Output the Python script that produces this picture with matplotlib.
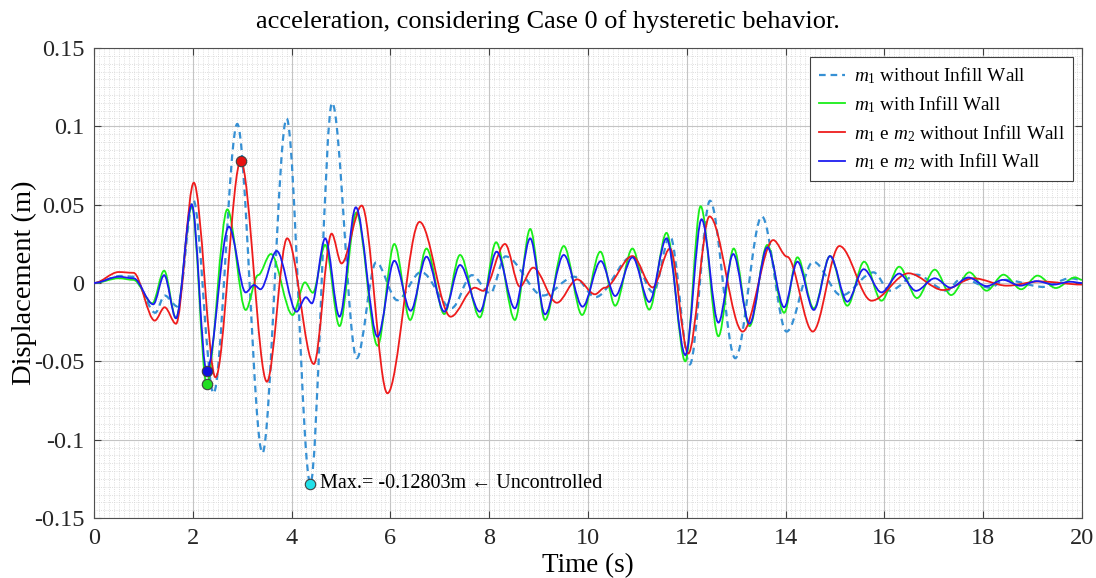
import numpy as np
import matplotlib
matplotlib.use('Agg')
import matplotlib.pyplot as plt
from matplotlib.path import Path
from matplotlib.patches import PathPatch
from matplotlib.lines import Line2D
from matplotlib.ticker import MultipleLocator

plt.rcParams['font.family'] = ['Liberation Serif', 'DejaVu Serif']
plt.rcParams['mathtext.fontset'] = 'custom'
plt.rcParams['mathtext.rm'] = 'Liberation Serif'
plt.rcParams['mathtext.it'] = 'Liberation Serif:italic'

# Peaks / troughs (time in s, displacement in m)
t_m1_wo = [0, 0.55, 0.8, 1.24, 1.43, 1.69, 2.01, 2.42, 2.90, 3.41, 3.90, 4.38, 4.82,
           5.32, 5.71, 6.14, 6.62, 7.24, 7.65, 8.02, 8.33, 9.09, 9.72, 10.15, 10.90,
           11.32, 11.66, 12.06, 12.47, 12.98, 13.52, 14.02, 14.56, 15.13, 15.78, 16.11,
           16.65, 17.26, 17.56, 18.14, 18.44, 19.22, 19.76, 20.0]
y_m1_wo = [0, 0.0045, 0.004, -0.019, -0.008, -0.015, 0.053, -0.0704, 0.1015, -0.1085,
           0.105, -0.12803, 0.115, -0.048, 0.0132, -0.011, 0.007, -0.016, 0.005, -0.0066,
           0.017, -0.008, 0.004, -0.009, 0.017, -0.006, 0.030, -0.052, 0.0525, -0.048,
           0.0425, -0.031, 0.0136, -0.008, 0.0068, -0.0049, 0.0053, -0.0049, 0.003,
           -0.003, 0.002, -0.0025, 0.003, 0.002]

t_m1_w = [0, 0.5, 0.8, 1.18, 1.42, 1.66, 1.98, 2.28, 2.70, 3.07, 3.32, 3.58, 4.02, 4.27,
          4.43, 4.68, 4.97, 5.31, 5.74, 6.08, 6.40, 6.73, 7.09, 7.41, 7.81, 8.14, 8.52,
          8.83, 9.13, 9.51, 9.88, 10.25, 10.55, 10.90, 11.24, 11.59, 11.97, 12.28, 12.64,
          12.95, 13.27, 13.63, 13.97, 14.24, 14.57, 14.90, 15.25, 15.59, 15.94, 16.30,
          16.66, 17.02, 17.35, 17.72, 18.07, 18.41, 18.77, 19.10, 19.47, 19.86, 20.0]
y_m1_w = [0, 0.003, 0.002, -0.013, 0.0079, -0.0225, 0.049, -0.0645, 0.047, -0.0172, 0.005,
          0.0185, -0.0204, 0.0004, -0.0062, 0.0243, -0.0275, 0.045, -0.040, 0.0249,
          -0.0236, 0.022, -0.0198, 0.0179, -0.022, 0.026, -0.0236, 0.0345, -0.0236,
          0.0236, -0.0204, 0.020, -0.0145, 0.022, -0.017, 0.032, -0.050, 0.049, -0.034,
          0.022, -0.0275, 0.0243, -0.019, 0.0164, -0.0162, 0.0172, -0.0145, 0.0136,
          -0.0113, 0.0104, -0.0096, 0.0085, -0.0077, 0.0068, -0.0049, 0.0053, -0.004,
          0.0047, -0.0032, 0.0036, 0.002]

t_m12_wo = [0, 0.5, 0.8, 1.23, 1.43, 1.66, 2.02, 2.46, 2.97, 3.50, 3.91, 4.45, 4.81, 5.01,
            5.42, 5.94, 6.59, 7.22, 7.71, 7.88, 8.32, 8.62, 8.89, 9.37, 9.78, 10.14, 10.34,
            10.90, 11.31, 11.66, 12.03, 12.46, 13.13, 13.75, 14.03, 14.55, 15.09, 15.74,
            16.49, 17.19, 17.80, 18.48, 19.15, 20.0]
y_m12_wo = [0, 0.007, 0.0065, -0.024, -0.0155, -0.026, 0.064, -0.0602, 0.0779, -0.063,
            0.0285, -0.0517, 0.0315, 0.0125, 0.0494, -0.0704, 0.039, -0.0215, -0.003,
            -0.005, 0.0249, -0.0023, 0.0098, -0.0126, 0.0023, -0.0072, -0.003, 0.0172,
            -0.0028, 0.022, -0.045, 0.0425, -0.031, 0.0274, 0.0168, -0.031, 0.0236,
            -0.0113, 0.0062, -0.0045, 0.003, -0.0017, 0.001, -0.001]

t_m12_w = [0, 0.5, 0.8, 1.20, 1.42, 1.66, 1.98, 2.28, 2.73, 3.07, 3.24, 3.37, 3.70, 4.10,
           4.29, 4.41, 4.68, 4.97, 5.30, 5.74, 6.08, 6.41, 6.73, 7.09, 7.41, 7.81, 8.15,
           8.52, 8.83, 9.13, 9.51, 9.89, 10.26, 10.55, 10.90, 11.24, 11.59, 11.97, 12.30,
           12.64, 12.94, 13.27, 13.63, 13.97, 14.24, 14.57, 14.90, 15.25, 15.58, 15.94,
           16.30, 16.64, 17.02, 17.34, 17.70, 18.07, 18.40, 18.75, 19.08, 19.43, 19.76, 20.0]
y_m12_w = [0, 0.004, 0.003, -0.0136, 0.005, -0.0225, 0.050, -0.0563, 0.036, -0.006,
           -0.0013, -0.004, 0.0204, -0.0183, -0.0091, -0.013, 0.0285, -0.0215, 0.0483,
           -0.0343, 0.0142, -0.0177, 0.0168, -0.0183, 0.0115, -0.0183, 0.020, -0.0162,
           0.0285, -0.020, 0.0179, -0.0151, 0.014, -0.0083, 0.0164, -0.0121, 0.0285,
           -0.046, 0.0407, -0.0253, 0.0185, -0.026, 0.0228, -0.0155, 0.0136, -0.0172,
           0.0172, -0.0119, 0.0088, -0.006, 0.006, -0.005, 0.003, -0.003, 0.0035, -0.002,
           0.002, -0.0017, 0.0012, -0.001, 0.0008, 0.0]

# highlighted maxima
mark_t = [4.38, 2.28, 2.97, 2.28]
mark_y = [-0.12803, -0.0645, 0.0779, -0.0563]

labels = [r'$m_{\mathit{1}}$ without Infill Wall', r'$m_{\mathit{1}}$ with Infill Wall',
          r'$m_{\mathit{1}}$ e $m_{\mathit{2}}$ without Infill Wall',
          r'$m_{\mathit{1}}$ e $m_{\mathit{2}}$ with Infill Wall']
colors = ['#3690d4', '#19ee19', '#ee1c1c', '#1c1cf0']
styles = [(0, (3, 2.2)), '-', '-', '-']
widths = [1.6, 1.3, 1.3, 1.3]


def smooth_path(t, y):
    # cubic bezier between successive extrema, horizontal tangent at each one
    verts = [(t[0], y[0])]
    codes = [Path.MOVETO]
    for i in range(len(t) - 1):
        d = t[i + 1] - t[i]
        verts += [(t[i] + d / 3, y[i]), (t[i + 1] - d / 3, y[i + 1]), (t[i + 1], y[i + 1])]
        codes += [Path.CURVE4] * 3
    return Path(verts, codes)


fig = plt.figure(figsize=(10.96, 5.78), dpi=100)
ax = fig.add_axes([94 / 1096, 60 / 578, 988 / 1096, 470 / 578])

series = [(t_m1_wo, y_m1_wo), (t_m1_w, y_m1_w), (t_m12_wo, y_m12_wo), (t_m12_w, y_m12_w)]
for (t, y), c, ls, lw in zip(series, colors, styles, widths):
    ax.add_patch(PathPatch(smooth_path(t, y), fill=False, edgecolor=c, linestyle=ls,
                           linewidth=lw, zorder=3))

mcol = ['#22e0e8', '#22dd22', '#e81010', '#1010e0']
for tt, yy, c in zip(mark_t, mark_y, mcol):
    ax.plot(tt, yy, 'o', color=c, markersize=7.5, markeredgecolor='#404040',
            markeredgewidth=0.8, zorder=5)

ax.text(4.58, -0.12803, 'Max.= -0.12803m \u2190 Uncontrolled', fontsize=14.5,
        va='center', ha='left', family=['Liberation Serif', 'DejaVu Serif'], zorder=6)

ax.set_xlim(0, 20)
ax.set_ylim(-0.15, 0.15)
ax.set_xticks(np.arange(0, 21, 2))
ax.set_yticks([-0.15, -0.1, -0.05, 0, 0.05, 0.1, 0.15])
ax.set_yticklabels(['-0.15', '-0.1', '-0.05', '0', '0.05', '0.1', '0.15'])
ax.xaxis.set_minor_locator(MultipleLocator(0.1))
ax.yaxis.set_minor_locator(MultipleLocator(0.005))
ax.tick_params(which='major', direction='in', length=5, width=0.8, labelsize=17.5,
               top=True, right=True, colors='#404040', labelcolor='#262626', pad=7)
ax.tick_params(which='minor', length=0)
ax.grid(which='major', color='#c4c4c4', linewidth=0.8, linestyle='-')
ax.grid(which='minor', color='#d4d4d4', linewidth=0.6, linestyle=':')
ax.set_axisbelow(True)
for s in ax.spines.values():
    s.set_color('#505050')
    s.set_linewidth(0.8)

ax.set_xlabel('Time (s)', fontsize=19.5, labelpad=3)
ax.set_ylabel('Displacement (m)', fontsize=20.5, labelpad=-2)

handles = [Line2D([], [], color=c, linestyle=ls, linewidth=lw)
           for c, ls, lw in zip(colors, styles, widths)]
leg = ax.legend(handles, labels, loc='upper right', fontsize=13.9, handlelength=1.35,
                handletextpad=0.45, labelspacing=0.42, borderaxespad=0.45, borderpad=0.45,
                fancybox=False, framealpha=1, edgecolor='#404040')
leg.get_frame().set_linewidth(0.8)

fig.text(0.5, 1 - 22 / 578, 'acceleration, considering Case 0 of hysteretic behavior.',
         ha='center', va='center', fontsize=19)

plt.savefig('out.png', dpi=100)
